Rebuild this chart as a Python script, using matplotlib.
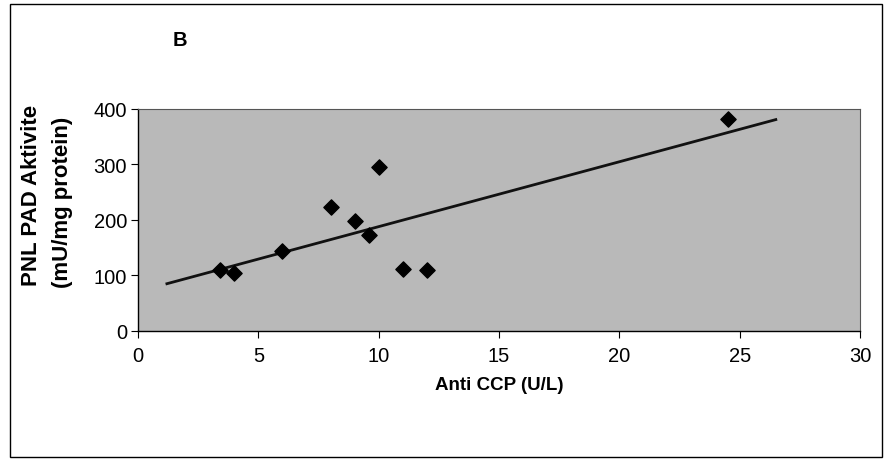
"""
Scatter of PNL PAD activity against anti-CCP with a linear trendline (panel B).
"""

import matplotlib

matplotlib.use("Agg")
import matplotlib.pyplot as plt
import numpy as np
from matplotlib.patches import Rectangle


anti_ccp = [3.4, 4.0, 6.0, 8.0, 9.0, 9.6, 10.0, 11.0, 12.0, 24.5]
pad_activity = [109, 105, 145, 224, 198, 173, 295, 111, 109, 382]
trend_range = [1.2, 26.5]
x_ticks = [0, 5, 10, 15, 20, 25, 30]
y_ticks = [0, 100, 200, 300, 400]

plt.rcParams["font.family"] = ["Liberation Sans", "DejaVu Sans"]

fig = plt.figure(figsize=(8.86, 4.6), dpi=100)
ax = fig.add_axes((0.1558, 0.2783, 0.8149, 0.4826))

ax.set_facecolor("#b9b9b9")
ax.scatter(anti_ccp, pad_activity, marker="D", s=60, color="black", zorder=3)

slope, intercept = np.polyfit(anti_ccp, pad_activity, 1)
xs = np.array(trend_range)
ax.plot(xs, slope * xs + intercept, color="#111111", linewidth=2.0, zorder=2)

ax.set_xlim(0, 30)
ax.set_ylim(0, 400)
ax.set_xticks(x_ticks)
ax.set_yticks(y_ticks)
ax.tick_params(axis="both", direction="out", length=5, width=0.8, labelsize=14.5, colors="black")
ax.tick_params(axis="x", pad=6)
ax.tick_params(axis="y", pad=3)
for side in ("top", "right"):
    ax.spines[side].set_color("#555555")
    ax.spines[side].set_linewidth(0.8)
for side in ("left", "bottom"):
    ax.spines[side].set_linewidth(1.0)

ax.set_xlabel("Anti CCP (U/L)", fontsize=13.5, fontweight="bold", labelpad=8)
fig.text(0.036, 0.575, "PNL PAD Aktivite", rotation=90, fontsize=16, fontweight="bold",
         ha="center", va="center")
fig.text(0.070, 0.56, "(mU/mg protein)", rotation=90, fontsize=16, fontweight="bold",
         ha="center", va="center")
fig.text(0.203, 0.913, "B", fontsize=14.5, fontweight="bold", ha="center", va="center")

fig.patches.append(Rectangle((0.011, 0.005), 0.985, 0.985, transform=fig.transFigure,
                             fill=False, edgecolor="black", linewidth=1.0))

fig.savefig("out.png", dpi=100)
